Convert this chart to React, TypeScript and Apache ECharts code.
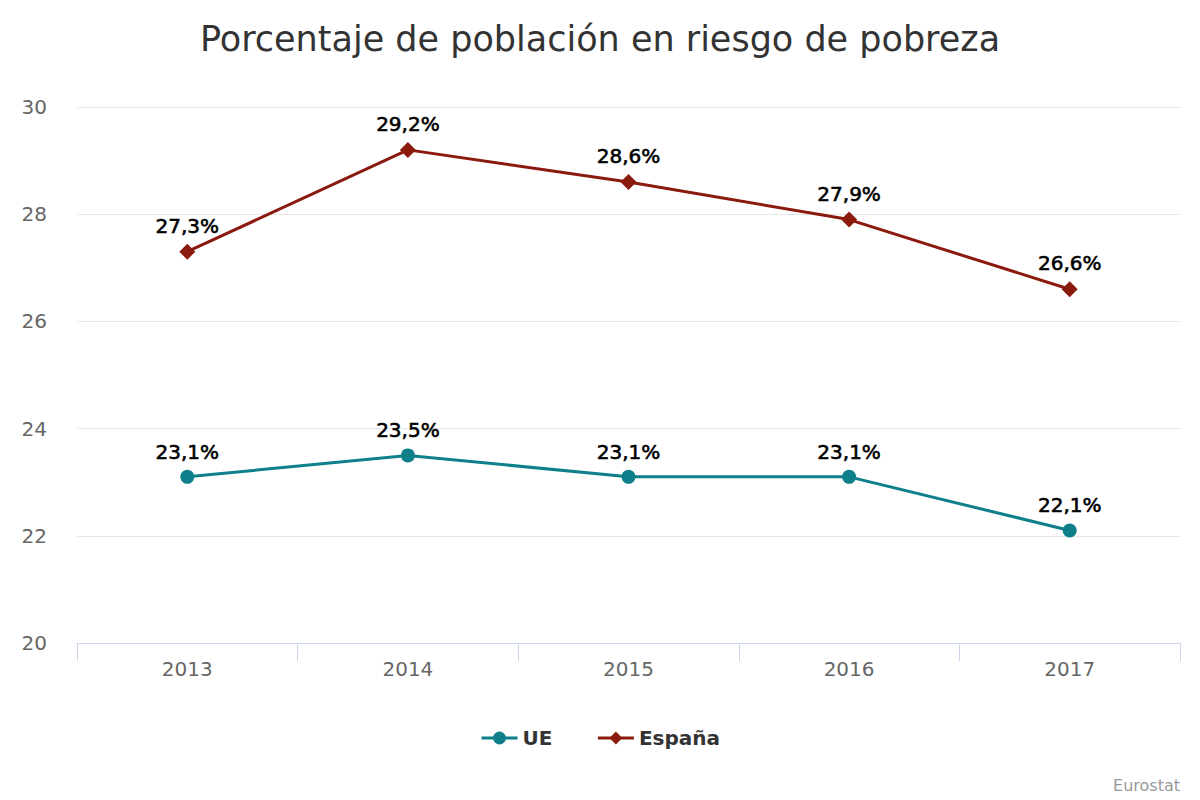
import React, { useEffect, useRef } from "react";
import * as echarts from "echarts";

const years = ["2013", "2014", "2015", "2016", "2017"];
const ueValues = [23.1, 23.5, 23.1, 23.1, 22.1];
const espanaValues = [27.3, 29.2, 28.6, 27.9, 26.6];
const titleText = "Porcentaje de población en riesgo de pobreza";
const creditText = "Eurostat";

const FONT = "'DejaVu Sans', sans-serif";

export default function App() {
  const ref = useRef<HTMLDivElement>(null);
  useEffect(() => {
    document.body.style.margin = "0";
    const chart = echarts.init(ref.current!, null, { renderer: "svg" });
    const label = {
      show: true,
      position: "top",
      distance: 8,
      color: "#000",
      fontSize: 20,
      fontWeight: "normal",
      fontFamily: FONT,
      textBorderColor: "#000",
      textBorderWidth: 0.6,
      formatter: (p: any) => String(p.value.toFixed(1)).replace(".", ",") + "%",
    };
    chart.setOption({
      animation: false,
      backgroundColor: "#fff",
      textStyle: { fontFamily: FONT },
      title: {
        text: titleText,
        left: "center",
        top: 16,
        textStyle: { fontSize: 35, fontWeight: "normal", color: "#333", fontFamily: FONT },
      },
      legend: {
        bottom: 47,
        left: "center",
        itemWidth: 36,
        itemHeight: 16,
        itemGap: 44,
        lineStyle: { width: 3 },
        textStyle: { fontSize: 20, fontWeight: "bold", color: "#333", fontFamily: FONT },
        data: ["UE", "España"],
      },
      graphic: [
        {
          type: "text",
          right: 20,
          bottom: 7,
          style: { text: creditText, fontSize: 16, fill: "#999", fontFamily: FONT },
        },
      ],
      grid: { left: 77, right: 20, top: 107, bottom: 157, containLabel: false },
      xAxis: {
        type: "category",
        data: years,
        boundaryGap: true,
        axisLine: { lineStyle: { color: "#ccd6eb", width: 1 } },
        axisTick: { show: true, length: 18, lineStyle: { color: "#ccd6eb" } },
        axisLabel: { color: "#666", fontSize: 20, margin: 16, fontFamily: FONT },
      },
      yAxis: {
        type: "value",
        min: 20,
        max: 30,
        interval: 2,
        axisLine: { show: false },
        axisTick: { show: false },
        axisLabel: { color: "#666", fontSize: 20, margin: 30, fontFamily: FONT },
        splitLine: { lineStyle: { color: "#e6e6e6", width: 1 } },
      },
      series: [
        {
          name: "UE",
          type: "line",
          data: ueValues,
          color: "#0e7f8b",
          symbol: "circle",
          symbolSize: 14,
          lineStyle: { width: 3 },
          label,
        },
        {
          name: "España",
          type: "line",
          data: espanaValues,
          color: "#8b1a0e",
          symbol: "diamond",
          symbolSize: 16,
          lineStyle: { width: 3 },
          label,
        },
      ],
    });
    return () => chart.dispose();
  }, []);
  return <div ref={ref} style={{ width: 1200, height: 800 }} />;
}
